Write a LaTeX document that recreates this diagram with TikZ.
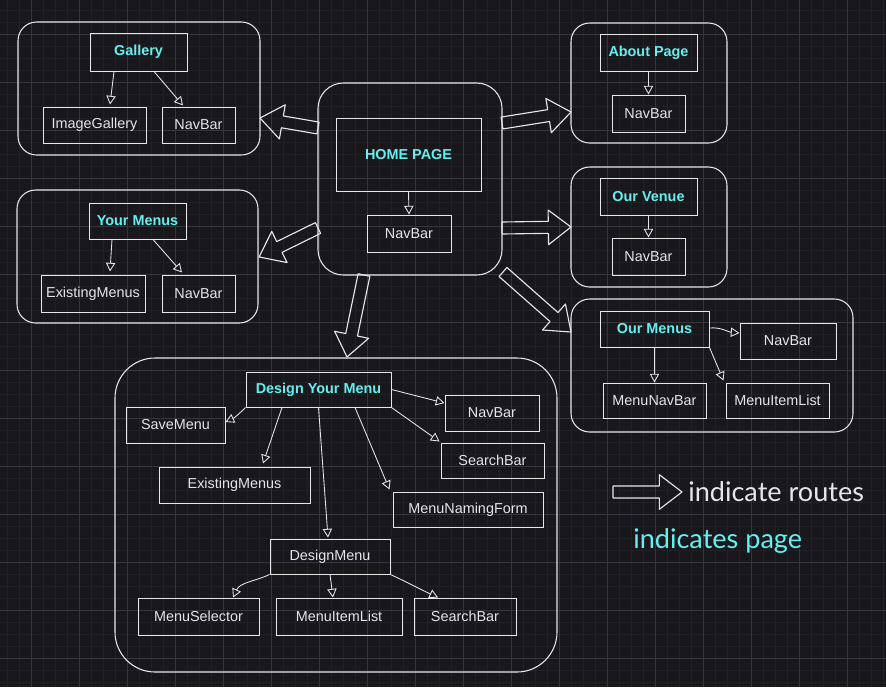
\documentclass[tikz,border=0pt]{standalone}
\usepackage{fontspec}
\setmainfont{Liberation Sans}
\newfontfamily\legendfont{Lato}
\usetikzlibrary{arrows.meta,calc}
\definecolor{bg}{RGB}{24,23,28}
\definecolor{gridminor}{RGB}{33,32,38}
\definecolor{gridmajor}{RGB}{54,53,59}
\definecolor{ink}{RGB}{230,230,230}
\definecolor{pagecyan}{RGB}{100,240,238}
\tikzset{
  grp/.style={draw=ink, line width=0.8pt, inner sep=0pt, rounded corners=14pt},
  box/.style={draw=ink, line width=0.75pt, inner sep=0pt, text=ink, font=\fontsize{10.8}{12}\selectfont},
  page/.style={box, text=pagecyan, font=\fontsize{10.8}{12}\selectfont\bfseries},
  arr/.style={draw=ink, line width=0.65pt, -{Triangle[open,length=6.5pt,width=7pt]}},
  route/.style={draw=ink, line width=0.85pt, line join=round},
  legendtext/.style={inner sep=0pt, anchor=west, font=\legendfont\fontsize{20.3}{24}\selectfont}
}
% node from pixel corners: [style]{name}{x1}{y1}{x2}{y2}{text}
\newcommand\BX[7][box]{%
  \node[#1, minimum width={(#5-#3)*0.75pt}, minimum height={(#6-#4)*0.75pt}] (#2) at ({(#3+#5)/2},{(#4+#6)/2}) {#7};}
\newcommand\routearrow[2]{%
  \path let \p1=(#1), \p2=(#2), \n1={atan2(\y2-\y1,\x2-\x1)}, \n2={veclen(\x2-\x1,\y2-\y1)} in \pgfextra{\xdef\RAang{\n1}\xdef\RAlen{\n2}};
  \pgfmathsetmacro\RALn{\RAlen}
  \pgfmathsetmacro\RAneck{\RALn-17}
  \begin{scope}[shift={(#1)},rotate=\RAang]
    \draw[route] (0pt,4.5pt) -- (\RAneck pt,4.5pt) -- (\RAneck pt,13pt) -- (\RALn pt,0pt) -- (\RAneck pt,-13pt) -- (\RAneck pt,-4.5pt) -- (0pt,-4.5pt) -- cycle;
  \end{scope}}
\begin{document}
\begin{tikzpicture}[x=0.75pt,y=-0.75pt]
\fill[bg] (0,0) rectangle (886,687);
\useasboundingbox (0,0) rectangle (886,687);
% grid
\foreach \gx in {7.3,19.3,...,886} \draw[gridminor, line width=0.45pt] (\gx,0) -- (\gx,687);
\foreach \gy in {10.3,22.3,...,687} \draw[gridminor, line width=0.45pt] (0,\gy) -- (886,\gy);
\foreach \gx in {31.3,79.3,...,886} \draw[gridmajor, line width=0.5pt] (\gx,0) -- (\gx,687);
\foreach \gy in {34.3,82.3,...,687} \draw[gridmajor, line width=0.5pt] (0,\gy) -- (886,\gy);

% groups
\BX[grp]{gGal}{18}{22}{260}{155}{}
\BX[grp]{gYM}{17}{190}{258}{323}{}
\BX[grp, rounded corners=19pt]{gHome}{318}{83}{502}{275}{}
\BX[grp]{gAbout}{571}{23}{727}{143}{}
\BX[grp]{gVenue}{571}{167}{727}{287}{}
\BX[grp]{gOM}{571}{299}{853}{432}{}
\BX[grp, rounded corners=30pt]{gDYM}{115}{358}{557}{672}{}

% Gallery
\BX[page]{pGal}{90}{33}{187}{71}{Gallery}
\BX{ig}{43}{107}{146}{143}{ImageGallery}
\BX{galNav}{162}{107}{235}{143}{NavBar}
\draw[arr] ($(pGal.south)+(-24.5,0)$) -- ($(ig.north)+(15.5,-2)$);
\draw[arr] ($(pGal.south)+(15.5,0)$) -- ($(galNav.north)+(-15.5,-1)$);

% Your Menus
\BX[page]{pYM}{89}{203}{186}{239}{Your Menus}
\BX{ymEx}{41}{275}{145}{312}{ExistingMenus}
\BX{ymNav}{162}{275}{235}{312}{NavBar}
\draw[arr] ($(pYM.south)+(-25.5,0)$) -- ($(ymEx.north)+(17,-3)$);
\draw[arr] ($(pYM.south)+(15.5,0)$) -- ($(ymNav.north)+(-16.5,-2)$);

% Home
\BX[page]{pHome}{336}{118}{481}{191}{HOME PAGE}
\BX{homeNav}{367}{215}{451}{252}{NavBar}
\draw[arr] (pHome.south) -- (homeNav.north);

% About
\BX[page]{pAbout}{600}{34}{697}{71}{About Page}
\BX{aboutNav}{612}{95}{685}{132}{NavBar}
\draw[arr] (pAbout.south) -- (aboutNav.north);

% Venue
\BX[page]{pVenue}{600}{178}{697}{215}{Our Venue}
\BX{venueNav}{612}{238}{685}{275}{NavBar}
\draw[arr] (pVenue.south) -- (venueNav.north);

% Our Menus
\BX[page]{pOM}{600}{311}{709}{347}{Our Menus}
\BX{omNav}{740}{323}{836}{359}{NavBar}
\BX{omMNB}{603}{383}{706}{418}{MenuNavBar}
\BX{omMIL}{726}{383}{829}{418}{MenuItemList}
\draw[arr] ($(pOM.east)+(0,-1)$) to[out=5,in=175] ($(omNav.west)+(0,-8)$);
\draw[arr] (pOM.south) -- (omMNB.north);
\draw[arr] (pOM.south east) -- ($(omMIL.north west)+(-2,-2)$);

% Design Your Menu
\BX[page]{pDYM}{246}{372}{391}{407}{Design Your Menu}
\BX{dSave}{126}{407}{225}{443}{SaveMenu}
\BX{dEx}{159}{467}{310}{503}{ExistingMenus}
\BX{dNav}{445}{395}{539}{431}{NavBar}
\BX{dSearch}{441}{443}{544}{478}{SearchBar}
\BX{dForm}{393}{492}{543}{527}{MenuNamingForm}
\BX{dDM}{270}{539}{390}{574}{DesignMenu}
\BX{dSel}{138}{598}{259}{635}{MenuSelector}
\BX{dMIL}{276}{598}{402}{635}{MenuItemList}
\BX{dSB}{414}{598}{516}{635}{SearchBar}
\draw[arr] (pDYM.south west) to[out=225,in=25] ($(dSave.east)+(0,-3)$);
\draw[arr] ($(pDYM.south)+(-36.5,0)$) -- ($(dEx.north)+(28.5,-3)$);
\draw[arr] (pDYM.south) -- ($(dDM.north)+(-2,-1)$);
\draw[arr] ($(pDYM.south)+(36.5,0)$) -- ($(dForm.north west)+(-3,-2)$);
\draw[arr] (pDYM.south east) -- ($(dSearch.north west)+(-1,-1)$);
\draw[arr] (pDYM.east) -- ($(dNav.west)+(0,-10)$);
\draw[arr] (dDM.south west) to[out=205,in=65] ($(dSel.north)+(34.5,0)$);
\draw[arr] (dDM.south) -- ($(dMIL.north)+(-6,0)$);
\draw[arr] (dDM.south east) to[out=-25,in=155] ($(dSB.north)+(-27,0)$);

% route arrows
\coordinate (rGalA) at (318,128);  \coordinate (rGalB) at (260,118);
\coordinate (rYMA) at (318,228);   \coordinate (rYMB) at (259,257);
\coordinate (rAbA) at (502,123);   \coordinate (rAbB) at (571,112);
\coordinate (rVeA) at (502,228);   \coordinate (rVeB) at (571,227);
\coordinate (rOMA) at (503,272);   \coordinate (rOMB) at (571,332);
\coordinate (rDYA) at (364,275);   \coordinate (rDYB) at (347,357);
\coordinate (legA) at (613,492);   \coordinate (legB) at (682,492);
\routearrow{rGalA}{rGalB}
\routearrow{rYMA}{rYMB}
\routearrow{rAbA}{rAbB}
\routearrow{rVeA}{rVeB}
\routearrow{rOMA}{rOMB}
\routearrow{rDYA}{rDYB}
\routearrow{legA}{legB}

% legend
\node[legendtext, text=ink] (legRoutes) at (688,492) {indicate routes};
\node[legendtext, text=pagecyan] (legPage) at (633,541) {indicates page};
\end{tikzpicture}
\end{document}
